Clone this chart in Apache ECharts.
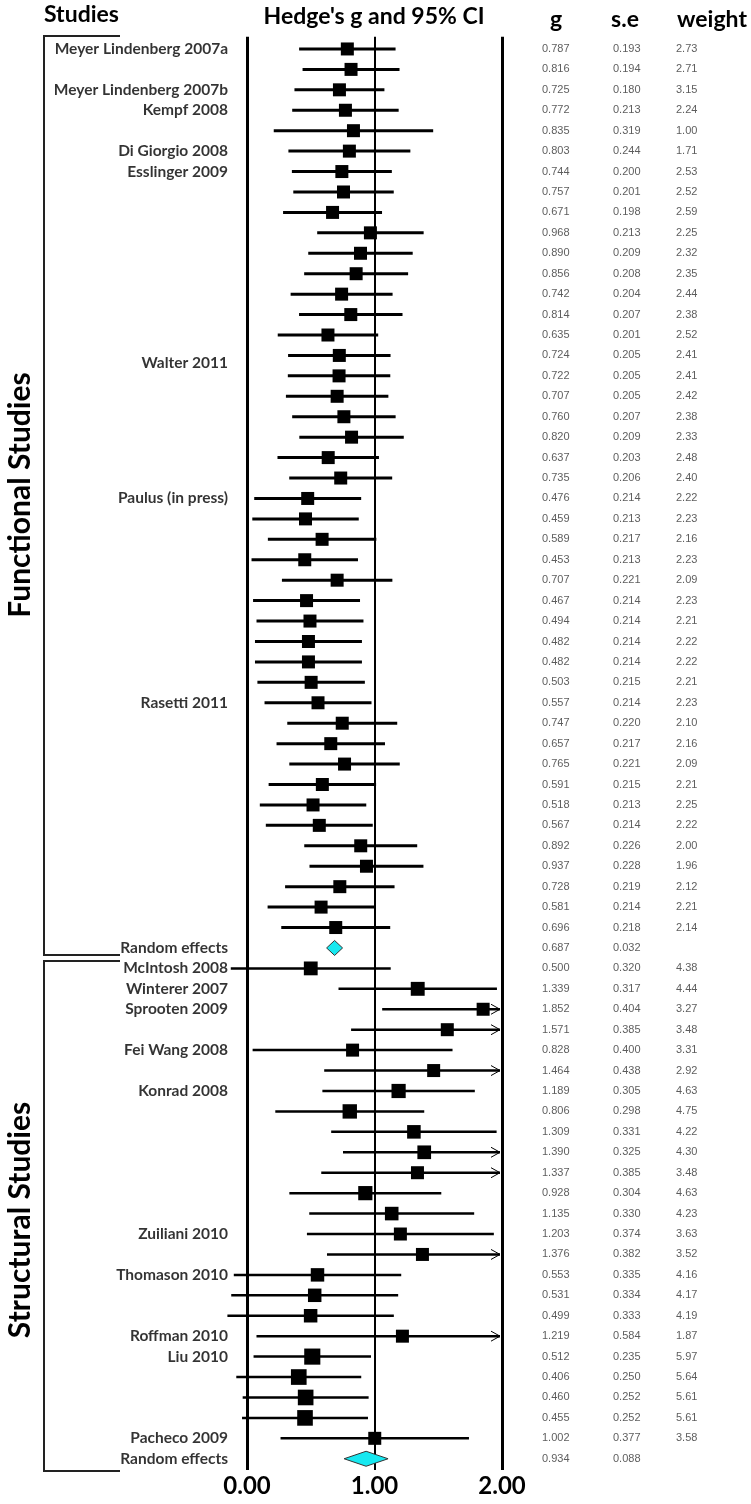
<!DOCTYPE html>
<html><head><meta charset="utf-8">
<script src="https://cdn.jsdelivr.net/npm/echarts@6/dist/echarts.min.js"></script>
<style>html,body{margin:0;padding:0;background:#fff}#c{width:751px;height:1504px}</style>
</head><body><div id="c"></div>
<script>
// ---------- data ----------
const funcG  = [0.787,0.816,0.725,0.772,0.835,0.803,0.744,0.757,0.671,0.968,0.890,0.856,0.742,0.814,0.635,0.724,0.722,0.707,0.760,0.820,0.637,0.735,0.476,0.459,0.589,0.453,0.707,0.467,0.494,0.482,0.482,0.503,0.557,0.747,0.657,0.765,0.591,0.518,0.567,0.892,0.937,0.728,0.581,0.696];
const funcSE = [0.193,0.194,0.180,0.213,0.319,0.244,0.200,0.201,0.198,0.213,0.209,0.208,0.204,0.207,0.201,0.205,0.205,0.205,0.207,0.209,0.203,0.206,0.214,0.213,0.217,0.213,0.221,0.214,0.214,0.214,0.214,0.215,0.214,0.220,0.217,0.221,0.215,0.213,0.214,0.226,0.228,0.219,0.214,0.218];
const funcW  = [2.73,2.71,3.15,2.24,1.00,1.71,2.53,2.52,2.59,2.25,2.32,2.35,2.44,2.38,2.52,2.41,2.41,2.42,2.38,2.33,2.48,2.40,2.22,2.23,2.16,2.23,2.09,2.23,2.21,2.22,2.22,2.21,2.23,2.10,2.16,2.09,2.21,2.25,2.22,2.00,1.96,2.12,2.21,2.14];
const funcRE = {g:0.687, se:0.032};
const strG  = [0.500,1.339,1.852,1.571,0.828,1.464,1.189,0.806,1.309,1.390,1.337,0.928,1.135,1.203,1.376,0.553,0.531,0.499,1.219,0.512,0.406,0.460,0.455,1.002];
const strSE = [0.320,0.317,0.404,0.385,0.400,0.438,0.305,0.298,0.331,0.325,0.385,0.304,0.330,0.374,0.382,0.335,0.334,0.333,0.584,0.235,0.250,0.252,0.252,0.377];
const strW  = [4.38,4.44,3.27,3.48,3.31,2.92,4.63,4.75,4.22,4.30,3.48,4.63,4.23,3.63,3.52,4.16,4.17,4.19,1.87,5.97,5.64,5.61,5.61,3.58];
const strRE = {g:0.934, se:0.088};
// study labels: [text, row]
const studyLabels = [
  ["Meyer Lindenberg 2007a",0],["Meyer Lindenberg 2007b",2],["Kempf 2008",3],["Di Giorgio 2008",5],["Esslinger 2009",6],
  ["Walter 2011",15.35],["Paulus (in press)",22],["Rasetti 2011",32],["Random effects",44],
  ["McIntosh 2008",45],["Winterer 2007",46],["Sprooten 2009",47],["Fei Wang 2008",49],["Konrad 2008",51],
  ["Zuiliani 2010",58],["Thomason 2010",60],["Roffman 2010",63],["Liu 2010",64],["Pacheco 2009",68],["Random effects",69]
];
const xTicks = [0,1,2];
const tableHeads = ["g","s.e","weight"];
const groupNames = ["Functional Studies","Structural Studies"];
// ---------- build ----------
const Z = 1.96, XMIN = -0.2, XMAX = 2;
const studyData = [], reData = [], tG = [], tS = [], tW = [];
funcG.forEach((g,i)=>{ studyData.push([g,i,g-Z*funcSE[i],g+Z*funcSE[i],funcW[i],0]); tG.push([0,i,g.toFixed(3)]); tS.push([1,i,funcSE[i].toFixed(3)]); tW.push([2,i,funcW[i].toFixed(2)]); });
reData.push([funcRE.g,44,funcRE.g-Z*funcRE.se,funcRE.g+Z*funcRE.se]);
tG.push([0,44,funcRE.g.toFixed(3)]); tS.push([1,44,funcRE.se.toFixed(3)]);
strG.forEach((g,j)=>{ const r=45+j; studyData.push([g,r,g-Z*strSE[j],g+Z*strSE[j],strW[j],1]); tG.push([0,r,g.toFixed(3)]); tS.push([1,r,strSE[j].toFixed(3)]); tW.push([2,r,strW[j].toFixed(2)]); });
reData.push([strRE.g,69,strRE.g-Z*strRE.se,strRE.g+Z*strRE.se]);
tG.push([0,69,strRE.g.toFixed(3)]); tS.push([1,69,strRE.se.toFixed(3)]);

const FONT = 'Lato';
const chart = echarts.init(document.getElementById('c'), null, {renderer:'canvas'});
const yCommon = {type:'value', inverse:true, min:-0.6, max:69.55, show:false};
function tableSeries(data, off){
  return {type:'scatter', xAxisIndex:1, yAxisIndex:1, data, symbolSize:0, silent:true,
    label:{show:true, position:'inside', align:'left', offset:[off,0], formatter:p=>p.value[2],
      fontFamily:'Liberation Sans', fontSize:11, color:'#333'}};
}
chart.setOption({
  animation:false,
  grid:[{left:221.5, right:249, top:36.7, bottom:34},{left:517, right:0, top:36.7, bottom:34}],
  xAxis:[
    {type:'value', gridIndex:0, min:XMIN, max:XMAX, axisLine:{show:false}, axisTick:{show:false}, splitLine:{show:false},
     axisLabel:{customValues:xTicks, formatter:v=>v.toFixed(2), fontFamily:FONT, fontWeight:'bold', fontSize:24, color:'#000', margin:4}},
    {type:'category', gridIndex:1, data:[tableHeads[0],{value:tableHeads[1],textStyle:{padding:[0,18,0,0]}},tableHeads[2]], position:'top',
     axisLine:{show:false}, axisTick:{show:false},
     axisLabel:{interval:0, fontFamily:FONT, fontWeight:'bold', fontSize:23, color:'#000', margin:6}}
  ],
  yAxis:[Object.assign({gridIndex:0},yCommon),Object.assign({gridIndex:1},yCommon)],
  graphic:[
    {type:'text', left:44, top:3, style:{text:'Studies', font:'bold 23px '+FONT, fill:'#000'}},
    {type:'text', x:374, y:17, style:{text:"Hedge's g and 95% CI", font:'bold 23px '+FONT, fill:'#000', align:'center', verticalAlign:'middle'}},
    {type:'polyline', shape:{points:[[120,36],[44,36],[44,955],[120,955]]}, style:{stroke:'#222', lineWidth:2, fill:null}},
    {type:'polyline', shape:{points:[[120,961],[44,961],[44,1471],[120,1471]]}, style:{stroke:'#222', lineWidth:2, fill:null}},
    {type:'text', x:20, y:495, rotation:Math.PI/2, style:{text:groupNames[0], font:'bold 30px '+FONT, fill:'#000', align:'center', verticalAlign:'middle'}},
    {type:'text', x:20, y:1220, rotation:Math.PI/2, style:{text:groupNames[1], font:'bold 30px '+FONT, fill:'#000', align:'center', verticalAlign:'middle'}}
  ],
  series:[
    {type:'custom', xAxisIndex:0, yAxisIndex:0, data:studyData, clip:false,
     renderItem:(params, api)=>{
       const g=api.value(0), r=api.value(1), lo=Math.max(api.value(2),XMIN), hi=api.value(3), w=api.value(4), grp=api.value(5);
       const pc=api.coord([g,r]), pl=api.coord([lo,r]), ph=api.coord([Math.min(hi,XMAX),r]);
       const lw = grp===0?3:2.5;
       const s = Math.max(13, Math.sqrt(w)*6.6);
       const kids=[
         {type:'line', shape:{x1:pl[0],y1:pl[1],x2:ph[0]-(hi>XMAX?2:0),y2:ph[1]}, style:{stroke:'#000', lineWidth:lw}},
         {type:'rect', shape:{x:pc[0]-s/2,y:pc[1]-s/2,width:s,height:s}, style:{fill:'#000'}}
       ];
       if(hi>XMAX){ kids.push({type:'polyline', shape:{points:[[ph[0]-11,ph[1]-5],[ph[0]-2,ph[1]],[ph[0]-11,ph[1]+5]]}, style:{stroke:'#000', lineWidth:1, fill:null}}); }
       return {type:'group', children:kids};
     },
     markLine:{silent:true, symbol:'none', label:{show:false},
       data:[{xAxis:0, lineStyle:{color:'#000', width:3, type:'solid'}},{xAxis:1, lineStyle:{color:'#000', width:2, type:'solid'}},{xAxis:2, lineStyle:{color:'#000', width:3, type:'solid'}}]}
    },
    {type:'custom', xAxisIndex:0, yAxisIndex:0, data:reData, clip:false, z:5,
     renderItem:(params, api)=>{
       const r=api.value(1), c=api.coord([api.value(0),r]), l=api.coord([api.value(2),r]), h=api.coord([api.value(3),r]);
       const hh=7.5;
       return {type:'polygon', shape:{points:[[l[0],c[1]],[c[0],c[1]-hh],[h[0],c[1]],[c[0],c[1]+hh]]}, style:{fill:'#17E8F0', stroke:'#333', lineWidth:1}};
     }},
    {type:'scatter', xAxisIndex:0, yAxisIndex:0, symbolSize:0, silent:true,
     data:studyLabels.map(d=>[XMIN,d[1],d[0]]),
     label:{show:true, position:'inside', align:'right', offset:[6.5,0], formatter:p=>p.value[2],
       fontFamily:FONT, fontWeight:'bold', fontSize:15.5, color:'#000'}},
    tableSeries(tG,-14), tableSeries(tS,-21), tableSeries(tW,-36)
  ]
});
</script></body></html>
